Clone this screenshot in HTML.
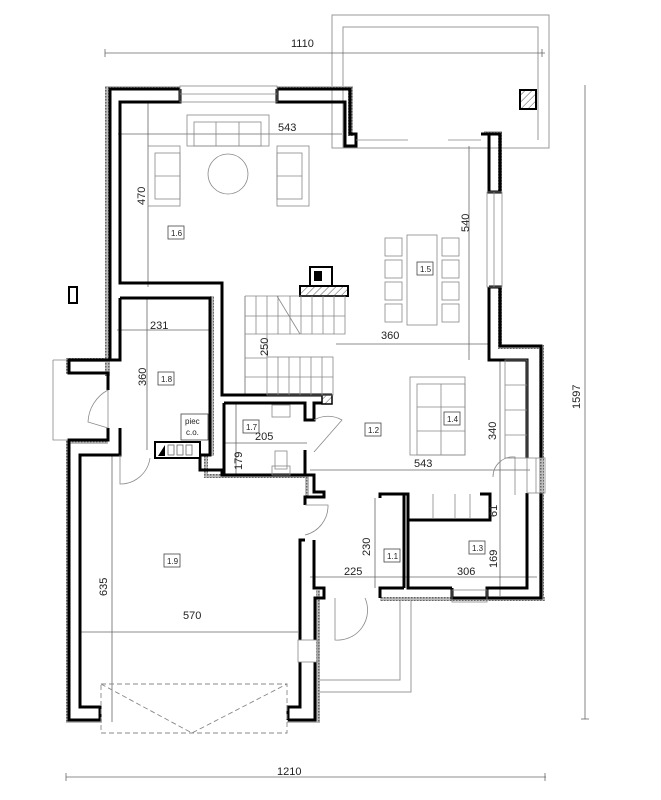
<!DOCTYPE html>
<html><head><meta charset="utf-8"><style>
html,body{margin:0;padding:0;background:#fff;}
svg{display:block;}
text{font-family:"Liberation Sans",sans-serif;fill:#222;}
</style></head><body>
<svg width="661" height="800" viewBox="0 0 661 800" xmlns="http://www.w3.org/2000/svg">
<defs>
<pattern id="hat" width="3" height="3" patternUnits="userSpaceOnUse"><rect width="3" height="3" fill="#bbb"/><rect width="1.5" height="1.5" fill="#666"/></pattern>
<pattern id="diag" width="5" height="5" patternUnits="userSpaceOnUse" patternTransform="rotate(45)"><rect width="5" height="5" fill="#fff"/><line x1="0" y1="0" x2="0" y2="5" stroke="#555" stroke-width="1"/></pattern>
</defs>
<g fill="none" stroke="#999" stroke-width="1">
<rect x="332" y="15" width="217" height="133"/>
<polyline points="343,148 343,27 538,27 538,140"/>
<polyline points="316,680 400,680 400,598"/>
<polyline points="316,692 411,692 411,598"/>
</g>
<g stroke="#666" stroke-width="0.8" fill="none">
<line x1="105" y1="53" x2="545" y2="53"/><line x1="105" y1="49" x2="105" y2="57"/><line x1="542" y1="49" x2="542" y2="57"/>
<line x1="66" y1="777" x2="546" y2="777"/><line x1="66" y1="773" x2="66" y2="781"/><line x1="545" y1="773" x2="545" y2="781"/>
<line x1="585" y1="85" x2="585" y2="719"/><line x1="581" y1="719" x2="589" y2="719"/>
<line x1="118" y1="134" x2="342" y2="134"/>
<line x1="148" y1="102" x2="148" y2="287"/>
<line x1="469" y1="146" x2="469" y2="360"/>
<line x1="336" y1="344" x2="490" y2="344"/>
<line x1="117" y1="330" x2="213" y2="330"/>
<line x1="147" y1="298" x2="147" y2="450"/>
<line x1="245" y1="296" x2="245" y2="395"/>
<line x1="224" y1="443" x2="307" y2="443"/>
<line x1="236" y1="403" x2="236" y2="475"/>
<line x1="310" y1="470" x2="530" y2="470"/>
<line x1="500" y1="360" x2="500" y2="596"/>
<line x1="310" y1="577" x2="537" y2="577"/>
<line x1="375" y1="498" x2="375" y2="588"/>
<line x1="80" y1="632" x2="298" y2="632"/>
<line x1="112" y1="455" x2="112" y2="722"/>
</g>
<g fill="url(#hat)">
<rect x="105" y="86" width="5" height="290"/>
<rect x="105" y="86" width="75" height="4"/><rect x="277" y="86" width="75" height="4"/>
<rect x="348" y="86" width="5" height="50"/>
<rect x="484" y="131" width="18" height="4"/><rect x="498" y="131" width="4" height="60"/>
<rect x="498" y="287" width="4" height="60"/><rect x="498" y="345" width="46" height="4"/>
<rect x="539" y="345" width="5" height="255"/>
<rect x="380" y="597" width="165" height="4"/>
<rect x="66" y="358" width="42" height="4"/><rect x="66" y="358" width="4" height="16"/>
<rect x="66" y="440" width="4" height="283"/><rect x="66" y="440" width="42" height="4"/>
<rect x="66" y="719" width="36" height="4"/><rect x="287" y="719" width="33" height="4"/>
<rect x="316" y="590" width="4" height="133"/>
<rect x="204" y="474" width="105" height="4"/><rect x="204" y="455" width="4" height="22"/>
<rect x="305" y="474" width="4" height="22"/>
<rect x="210" y="296" width="4" height="160"/>
</g>
<g fill="none" stroke="#000" stroke-width="3" stroke-linejoin="miter">
<polyline points="180,89 110,89 110,360 69,360 69,373 108,373 108,390"/>
<polyline points="180,89 180,102 120,102 120,283 222,283 222,395 332,395"/>
<polyline points="277,89 350,89 350,134 356,134 356,146 345,146 345,102 277,102 277,89"/>
<polyline points="481,134 500,134 500,192 489,192 489,134"/>
<polyline points="489,287 500,287 500,346 541,346 541,458"/>
<polyline points="489,287 489,360 527,360 527,458"/>
<polyline points="541,493 541,598 452,598 452,588"/>
<polyline points="527,493 527,588 487,588 487,598"/>
<polyline points="452,588 408,588 408,520 490,520 490,494 480,494"/>
<polyline points="404,588 404,494 380,494 380,498"/>
<polyline points="380,598 380,588 404,588"/>
<polyline points="404,494 408,494 408,520"/>
<polyline points="120,298 210,298 210,455 200,455"/>
<polyline points="120,298 120,360 108,360"/>
<polyline points="108,428 108,440 69,440 69,720 100,720 100,707 80,707 80,455 120,455 120,428"/>
<polyline points="288,720 315,720 315,662"/>
<polyline points="288,720 288,707 300,707 300,662"/>
<polyline points="300,640 300,540 305,540"/>
<polyline points="315,640 315,598 324,598 324,588 314,588 314,540"/>
<polyline points="305,505 305,497 324,497 324,492 314,492 314,475 305,475 305,450"/>
<polyline points="200,455 200,470 222,470 222,475 305,475"/>
<polyline points="224,403 305,403 305,420 314,420 314,403 332,403"/>
<polyline points="224,403 224,475"/>
</g>
<rect x="155" y="442" width="45" height="16" fill="#fff" stroke="#000" stroke-width="2"/>
<polygon points="158,456 165,445 165,456" fill="#000"/>
<g fill="none" stroke="#666" stroke-width="0.8"><rect x="168" y="445" width="6" height="10"/><rect x="177" y="445" width="6" height="10"/><rect x="186" y="445" width="6" height="10"/></g>
<rect x="310" y="267" width="22" height="19" fill="#fff" stroke="#000" stroke-width="2"/>
<rect x="314" y="271" width="8" height="10" fill="#000"/>
<rect x="300" y="286" width="48" height="10" fill="url(#diag)" stroke="#000" stroke-width="2"/>
<rect x="322" y="395" width="10" height="9" fill="url(#diag)" stroke="#000" stroke-width="1.5"/>
<rect x="520" y="90" width="16" height="19" fill="url(#diag)" stroke="#000" stroke-width="2"/>
<rect x="69" y="287" width="8" height="16" fill="#fff" stroke="#000" stroke-width="2"/>
<g fill="none" stroke="#888" stroke-width="0.8">
<rect x="180" y="86" width="97" height="16"/><line x1="180" y1="94" x2="277" y2="94"/>
<rect x="487" y="192" width="15" height="95"/><line x1="494" y1="192" x2="494" y2="287"/>
<rect x="527" y="458" width="18" height="35"/><line x1="536" y1="458" x2="536" y2="493"/>
<rect x="452" y="590" width="35" height="12"/>
<rect x="298" y="640" width="20" height="22"/>
<line x1="356" y1="140" x2="385" y2="140"/><line x1="385" y1="140" x2="408" y2="140"/>
<line x1="448" y1="140" x2="481" y2="140"/>
<polyline points="53,360 53,440 67,440"/><line x1="53" y1="360" x2="67" y2="360"/>
<rect x="187" y="115" width="82" height="31"/><rect x="194" y="122" width="67" height="24"/>
<line x1="216" y1="122" x2="216" y2="146"/><line x1="239" y1="122" x2="239" y2="146"/>
<rect x="148" y="146" width="32" height="60"/><rect x="155" y="153" width="25" height="46"/><line x1="155" y1="176" x2="180" y2="176"/>
<rect x="277" y="146" width="32" height="60"/><rect x="277" y="153" width="25" height="46"/><line x1="277" y1="176" x2="302" y2="176"/>
<circle cx="228" cy="174" r="20"/>
<rect x="407" y="235" width="30" height="90"/>
<rect x="385" y="238" width="17" height="18"/><rect x="385" y="260" width="17" height="18"/><rect x="385" y="282" width="17" height="18"/><rect x="385" y="304" width="17" height="18"/>
<rect x="442" y="238" width="17" height="18"/><rect x="442" y="260" width="17" height="18"/><rect x="442" y="282" width="17" height="18"/><rect x="442" y="304" width="17" height="18"/>
<rect x="410" y="377" width="55" height="78"/><rect x="417" y="384" width="48" height="71"/>
<line x1="441" y1="384" x2="441" y2="455"/><line x1="417" y1="407" x2="465" y2="407"/><line x1="417" y1="431" x2="465" y2="431"/>
<rect x="505" y="360" width="22" height="98"/><line x1="505" y1="385" x2="527" y2="385"/><line x1="505" y1="410" x2="527" y2="410"/><line x1="505" y1="435" x2="527" y2="435"/>
<line x1="433" y1="494" x2="433" y2="518"/><line x1="455" y1="494" x2="455" y2="518"/><line x1="470" y1="494" x2="470" y2="518"/>
<polyline points="245,296 345,296 345,334 245,334"/><line x1="245" y1="296" x2="245" y2="358"/>
<line x1="245" y1="358" x2="267" y2="358"/>
<rect x="267" y="357" width="66" height="38"/>
<line x1="267" y1="334" x2="267" y2="357"/>
<line x1="256" y1="296" x2="256" y2="334"/><line x1="267" y1="296" x2="267" y2="334"/><line x1="278" y1="296" x2="278" y2="334"/><line x1="290" y1="296" x2="290" y2="334"/><line x1="301" y1="296" x2="301" y2="334"/><line x1="312" y1="296" x2="312" y2="334"/><line x1="323" y1="296" x2="323" y2="334"/><line x1="334" y1="296" x2="334" y2="334"/>
<line x1="245" y1="316" x2="345" y2="316"/>
<line x1="278" y1="357" x2="278" y2="395"/><line x1="289" y1="357" x2="289" y2="395"/><line x1="300" y1="357" x2="300" y2="395"/><line x1="311" y1="357" x2="311" y2="395"/><line x1="322" y1="357" x2="322" y2="395"/>
<line x1="245" y1="377" x2="333" y2="377"/>
<line x1="277" y1="296" x2="300" y2="334"/>
<rect x="272" y="405" width="18" height="12"/><rect x="275" y="451" width="12" height="18"/><rect x="272" y="466" width="18" height="9"/>
<path d="M108,390 A38,38 0 0 0 88,422 L108,428" /><line x1="108" y1="390" x2="108" y2="428"/>
<path d="M120,455 L120,484 A30,30 0 0 0 150,458"/>
<path d="M314,420 A28,28 0 0 1 342,420 L314,452"/>
<path d="M493,477 A20,20 0 0 1 515,457 L515,495"/>
<path d="M305,505 L328,505 A30,30 0 0 1 305,535"/>
<path d="M335,598 L335,640 A30,30 0 0 0 365,598"/>
</g>
<g fill="none" stroke="#888" stroke-width="0.9" stroke-dasharray="5,3">
<rect x="101" y="684" width="186" height="49"/>
<polyline points="101,684 192,733 287,684"/>
</g>
<g fill="#fff" stroke="#444" stroke-width="0.8">
<rect x="168" y="226" width="16" height="13"/><rect x="417" y="262" width="16" height="13"/>
<rect x="158" y="372" width="16" height="13"/><rect x="243" y="420" width="16" height="13"/>
<rect x="365" y="423" width="16" height="13"/><rect x="444" y="412" width="16" height="13"/>
<rect x="164" y="554" width="16" height="13"/><rect x="384" y="549" width="16" height="13"/>
<rect x="469" y="541" width="16" height="13"/><rect x="181" y="414" width="27" height="26"/>
</g>
<g font-size="8">
<text x="171" y="236">1.6</text><text x="420" y="272">1.5</text><text x="161" y="382">1.8</text>
<text x="246" y="430">1.7</text><text x="368" y="433">1.2</text><text x="447" y="422">1.4</text>
<text x="167" y="564">1.9</text><text x="387" y="559">1.1</text><text x="472" y="551">1.3</text>
<text x="185" y="424">piec</text><text x="186" y="435">c.o.</text>
</g>
<g font-size="11">
<text x="291" y="47">1110</text><text x="277" y="775">1210</text>
<text x="278" y="131">543</text><text x="150" y="329">231</text><text x="381" y="339">360</text>
<text x="414" y="467">543</text><text x="255" y="440">205</text><text x="344" y="575">225</text>
<text x="457" y="575">306</text><text x="183" y="619">570</text>
</g>
<g font-size="11">
<text transform="translate(145,205) rotate(-90)">470</text>
<text transform="translate(469,232) rotate(-90)">540</text>
<text transform="translate(268,356) rotate(-90)">250</text>
<text transform="translate(146,386) rotate(-90)">360</text>
<text transform="translate(242,470) rotate(-90)">179</text>
<text transform="translate(496,440) rotate(-90)">340</text>
<text transform="translate(497,517) rotate(-90)">61</text>
<text transform="translate(497,568) rotate(-90)">169</text>
<text transform="translate(370,556) rotate(-90)">230</text>
<text transform="translate(107,596) rotate(-90)">635</text>
<text transform="translate(580,409) rotate(-90)">1597</text>
</g>
</svg>
</body></html>
